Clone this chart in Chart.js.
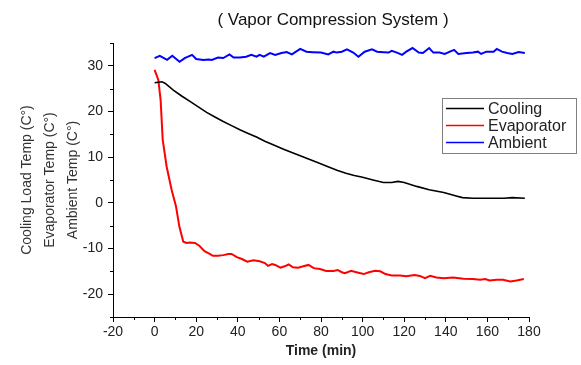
<!DOCTYPE html>
<html>
<head>
<meta charset="utf-8">
<script src="https://cdn.jsdelivr.net/npm/chart.js@4.4.1/dist/chart.umd.min.js"></script>
<style>
html,body{margin:0;padding:0;background:#fff;}
#wrap{width:581px;height:365px;position:relative;}
</style>
</head>
<body>
<div id="wrap"><canvas id="c" width="581" height="365"></canvas></div>
<script>
const chartTitle = "( Vapor Compression System )";
const xAxisTitle = "Time (min)";
const yAxisTitle = ["Cooling Load Temp (C°)", "Evaporator Temp (C°)", "Ambient Temp (C°)"];
const seriesNames = ["Cooling", "Evaporator", "Ambient"];
const xTickValues = [-20, 0, 20, 40, 60, 80, 100, 120, 140, 160, 180];
const xMinorTicks = [-10, 10, 30, 50, 70, 90, 110, 130, 150, 170];
const yTickValues = [-20, -10, 0, 10, 20, 30];
const yMinorTicks = [-25, -15, -5, 5, 15, 25, 35];

const coolingTime = [0, 3.5, 5, 9, 13, 17, 21, 25, 29, 33, 37, 41, 45, 49, 53, 57, 62, 66, 70, 74, 78, 84, 88, 92, 96, 100, 105, 110, 114, 117, 120, 126, 132, 139, 145, 148, 153, 160, 168, 172, 178];
const coolingTemp = [26.3, 26.5, 26.2, 24.7, 23.4, 22.2, 21.0, 19.8, 18.8, 17.8, 16.9, 16.0, 15.2, 14.4, 13.5, 12.7, 11.75, 11.0, 10.3, 9.6, 8.9, 7.8, 7.1, 6.5, 6.0, 5.6, 5.0, 4.45, 4.45, 4.7, 4.45, 3.6, 2.85, 2.25, 1.5, 1.15, 1.0, 1.0, 1.0, 1.15, 1.0];

const evapTime = [0, 1.8, 2.9, 3.9, 5.8, 8.2, 10.3, 11.9, 13.8, 15.4, 17, 19.4, 21.5, 24, 26.5, 28, 30.5, 33, 35.5, 37, 39.5, 42, 44.5, 47.5, 50.5, 53, 54.5, 56.5, 58, 60.5, 62.5, 64.5, 66.5, 69, 71.5, 74, 76.5, 79.5, 82.5, 86, 88, 90, 91.5, 94.5, 97, 100.5, 103, 106, 108.5, 111, 114, 118, 121, 125, 127.5, 130, 132.5, 135.5, 139, 143.5, 148.5, 153, 156.5, 159, 161, 164.5, 167.5, 171, 174, 177.5];
const evapTemp = [29.1, 26.9, 22.5, 13.8, 7.9, 2.8, -0.8, -5.2, -8.5, -8.8, -8.7, -8.8, -9.4, -10.6, -11.2, -11.6, -11.6, -11.45, -11.2, -11.2, -11.9, -12.3, -12.9, -12.6, -12.8, -13.2, -13.8, -13.4, -13.6, -14.2, -13.9, -13.5, -14.1, -14.2, -13.9, -13.6, -14.3, -14.5, -14.9, -14.9, -14.7, -15.2, -15.4, -14.9, -15.2, -15.6, -15.2, -14.9, -15.0, -15.6, -15.9, -15.9, -16.1, -15.8, -16.0, -16.5, -16.0, -16.35, -16.5, -16.35, -16.6, -16.7, -16.85, -16.7, -17.0, -16.85, -16.85, -17.2, -17.0, -16.7];

const ambientTime = [0, 2.5, 6, 8.5, 12, 14.5, 18, 20, 23.5, 26, 27.5, 30.5, 33, 36, 38, 41, 44, 46.5, 49, 50.5, 52.5, 55.5, 58, 61, 63.5, 66, 70, 73, 76, 80, 83.5, 86, 87.5, 90, 92.5, 95.5, 98, 101, 104.5, 107, 110, 112.5, 114, 116.5, 119, 121, 124, 127, 129, 132, 134, 137, 139.5, 142, 144, 146, 150, 153, 155.5, 157, 159.5, 163, 164.5, 167, 169.5, 172, 175, 178];
const ambientTemp = [31.7, 32.2, 31.3, 32.2, 30.9, 31.7, 32.4, 31.5, 31.3, 31.4, 31.3, 31.8, 31.7, 32.5, 31.8, 31.8, 32.0, 32.4, 32.0, 32.4, 32.0, 32.8, 32.4, 32.8, 33.0, 32.5, 33.7, 33.1, 33.0, 32.9, 32.5, 33.1, 32.9, 33.1, 33.6, 32.9, 32.0, 33.1, 33.6, 33.1, 33.0, 32.9, 33.3, 32.9, 32.4, 33.1, 33.9, 32.9, 32.8, 33.9, 32.9, 32.9, 32.6, 33.1, 33.5, 32.6, 32.8, 32.9, 33.1, 32.6, 33.1, 33.1, 33.7, 33.1, 32.8, 32.6, 33.0, 32.8];

const seriesColors = ["#000000", "#ff0000", "#0000ff"];

function pts(t, v) { return t.map((x, i) => ({x: x, y: v[i]})); }

const FONT = "'Liberation Sans', Arial, sans-serif";

const decor = {
  id: 'decor',
  afterDraw(chart) {
    const ctx = chart.ctx;
    const xs = chart.scales.x, ys = chart.scales.y;
    const area = chart.chartArea;
    ctx.save();
    // minor ticks
    ctx.strokeStyle = '#000';
    ctx.lineWidth = 1;
    ctx.beginPath();
    xMinorTicks.forEach(v => {
      const px = Math.round(xs.getPixelForValue(v)) + 0.5;
      ctx.moveTo(px, area.bottom);
      ctx.lineTo(px, area.bottom + 3);
    });
    yMinorTicks.forEach(v => {
      const py = Math.round(ys.getPixelForValue(v)) + 0.5;
      ctx.moveTo(area.left - 3, py);
      ctx.lineTo(area.left, py);
    });
    ctx.stroke();
    // title
    ctx.fillStyle = '#111';
    ctx.font = "17px " + FONT;
    ctx.textAlign = 'center';
    ctx.textBaseline = 'middle';
    ctx.fillText(chartTitle, 333, 20);
    // legend
    const bx = 442.5, by = 98.5, bw = 134, bh = 55;
    ctx.fillStyle = '#fff';
    ctx.fillRect(bx, by, bw, bh);
    ctx.strokeStyle = '#808080';
    ctx.lineWidth = 1;
    ctx.strokeRect(bx, by, bw, bh);
    ctx.font = "16px " + FONT;
    ctx.textAlign = 'left';
    chart.data.datasets.forEach((ds, i) => {
      const y = 108.5 + i * 17;
      ctx.strokeStyle = ds.borderColor;
      ctx.lineWidth = 1.5;
      ctx.beginPath();
      ctx.moveTo(446, y);
      ctx.lineTo(484, y);
      ctx.stroke();
      ctx.fillStyle = '#222';
      ctx.fillText(ds.label, 488, y + 1);
    });
    ctx.restore();
  }
};

new Chart(document.getElementById('c'), {
  type: 'line',
  data: {
    datasets: [
      {label: seriesNames[0], data: pts(coolingTime, coolingTemp), borderColor: seriesColors[0], borderWidth: 1.6},
      {label: seriesNames[1], data: pts(evapTime, evapTemp), borderColor: seriesColors[1], borderWidth: 2},
      {label: seriesNames[2], data: pts(ambientTime, ambientTemp), borderColor: seriesColors[2], borderWidth: 2}
    ]
  },
  options: {
    responsive: false,
    animation: false,
    parsing: true,
    elements: {point: {radius: 0}, line: {tension: 0, fill: false}},
    layout: {padding: {left: 0, right: 52, top: 43, bottom: 0}},
    plugins: {legend: {display: false}, title: {display: false}, tooltip: {enabled: false}},
    scales: {
      x: {
        type: 'linear', min: -20, max: 180,
        afterBuildTicks: s => { s.ticks = xTickValues.map(v => ({value: v})); },
        afterFit: s => { s.height = 48; },
        grid: {drawOnChartArea: false, tickLength: 5, color: '#000', tickWidth: 1},
        border: {display: true, color: '#000', width: 1},
        ticks: {color: '#222', font: {size: 14, family: FONT}, padding: 2, maxRotation: 0, autoSkip: false},
        title: {display: true, text: xAxisTitle, color: '#222', font: {size: 14, weight: 'bold', family: FONT}, padding: {top: 0, bottom: 5}}
      },
      y: {
        type: 'linear', min: -25, max: 35,
        afterBuildTicks: s => { s.ticks = yTickValues.map(v => ({value: v})); },
        afterFit: s => { s.width = 113; },
        grid: {drawOnChartArea: false, tickLength: 5, color: '#000', tickWidth: 1},
        border: {display: true, color: '#000', width: 1},
        ticks: {color: '#222', font: {size: 14, family: FONT}, padding: 5, autoSkip: false},
        title: {display: true, text: yAxisTitle, color: '#333', font: {size: 14, family: FONT, lineHeight: 1.64}, padding: {top: 16, bottom: 0}}
      }
    }
  },
  plugins: [decor]
});
</script>
</body>
</html>
